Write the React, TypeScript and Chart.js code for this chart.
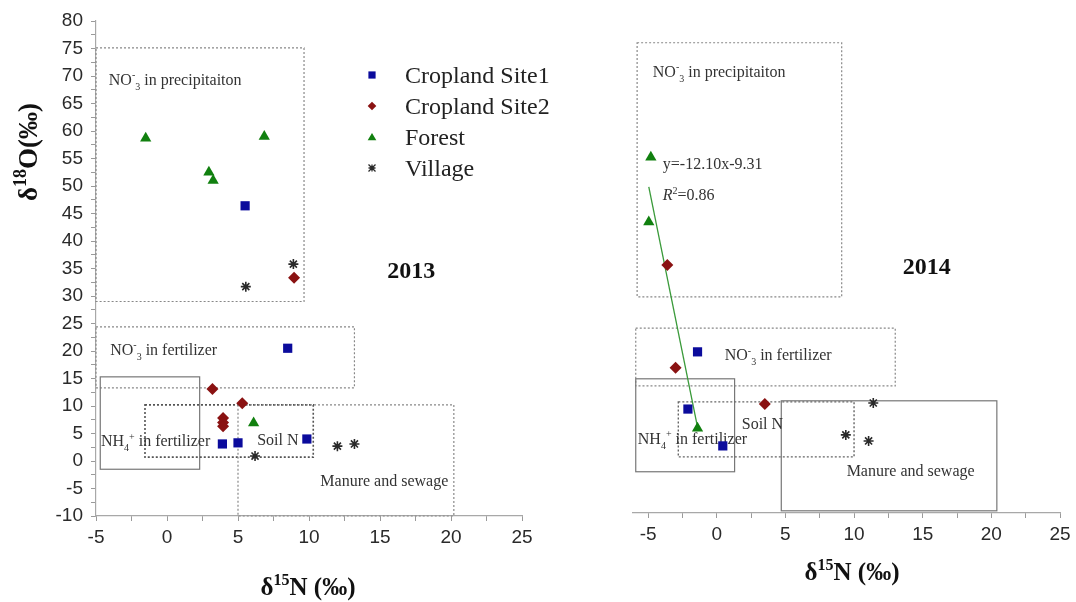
import React, { useEffect, useRef } from "react";
import { Chart, registerables } from "chart.js";
Chart.register(...registerables);

// ---------- DATA ----------
const SERIES = ["Cropland Site1", "Cropland Site2", "Forest", "Village"];

const site1_2013 = [
  { x: 5.5, y: 46.4 }, { x: 8.5, y: 20.5 }, { x: 3.9, y: 3.1 }, { x: 5.0, y: 3.3 }, { x: 9.85, y: 4.0 },
];
const site2_2013 = [
  { x: 8.95, y: 33.3 }, { x: 3.2, y: 13.1 }, { x: 5.3, y: 10.5 }, { x: 3.95, y: 7.8 }, { x: 3.95, y: 7.0 }, { x: 3.95, y: 6.3 },
];
const forest_2013 = [
  { x: -1.5, y: 58.7 }, { x: 6.85, y: 59.0 }, { x: 2.95, y: 52.5 }, { x: 3.25, y: 51.0 }, { x: 6.1, y: 6.9 },
];
const village_2013 = [
  { x: 5.55, y: 31.7 }, { x: 8.9, y: 35.8 }, { x: 6.2, y: 0.9 }, { x: 12.0, y: 2.7 }, { x: 13.2, y: 3.1 },
];

const site1_2014 = [{ x: -1.4, y: 19.3 }, { x: -2.1, y: 8.9 }, { x: 0.44, y: 2.2 }];
const site2_2014 = [{ x: -3.6, y: 35.1 }, { x: -3.0, y: 16.4 }, { x: 3.5, y: 9.8 }];
const forest_2014 = [{ x: -4.8, y: 54.7 }, { x: -4.95, y: 42.9 }, { x: -1.4, y: 5.4 }];
const village_2014 = [{ x: 11.4, y: 10.0 }, { x: 9.4, y: 4.2 }, { x: 11.06, y: 3.1 }];
const fit_2014 = [{ x: -4.95, y: 49.3 }, { x: -1.4, y: 5.6 }];

// source boxes: [xMin, xMax, yMin, yMax]
const BOX_NAMES = ["precipitation", "NO3 fertilizer", "NH4 fertilizer", "Soil N", "Manure and sewage"];
const boxes2013 = [
  [-5, 9.65, 29, 75.1],
  [-5, 13.2, 13.3, 24.4],
  [-4.7, 2.3, -1.5, 15.3],
  [-1.55, 10.3, 0.7, 10.2],
  [5.0, 20.2, -10, 10.2],
];
const boxes2014 = [
  [-5.8, 9.1, 29.3, 75.5],
  [-5.9, 13.0, 13.1, 23.6],
  [-5.9, 1.3, -2.5, 14.4],
  [-2.8, 10.0, 0.2, 10.2],
  [4.7, 20.4, -9.6, 10.4],
];

const X_MIN_2013 = -5, X_MAX_2013 = 25;
const X_MIN_2014 = -6.1, X_MAX_2014 = 25;
const Y_MIN = -10, Y_MAX = 80;
const TICK_STEP = 2.5;
const LABEL_STEP = 5;

// ---------- STYLES ----------
const BLUE = "#0b0b9c";
const RED = "#8a1212";
const GREEN = "#11800f";
const VILLAGE = "#2a2a2a";
const SERIF = '"Liberation Serif", "Times New Roman", serif';
const SANS = '"Liberation Sans", Arial, sans-serif';

// box line styles per panel: [dash, color, width]
const boxStyle2013: [number[], string, number][] = [
  [[2, 2], "#888", 1.2],
  [[2, 2], "#888", 1.2],
  [[], "#777", 1.2],
  [[2, 2], "#555", 1.6],
  [[2, 2], "#888", 1.2],
];
const boxStyle2014: [number[], string, number][] = [
  [[2, 2], "#888", 1.2],
  [[2, 2], "#888", 1.2],
  [[], "#777", 1.2],
  [[2, 2], "#666", 1.4],
  [[], "#777", 1.2],
];

type Part = { t: string; sup?: boolean; sub?: boolean; italic?: boolean };

function drawRich(ctx: CanvasRenderingContext2D, parts: Part[], x: number, y: number, size: number, weight: string, align: "left" | "center", color: string) {
  const fontOf = (p: Part, s: number) => `${p.italic ? "italic " : ""}${weight} ${s}px ${SERIF}`;
  const items: { p: Part; s: number; off: number }[] = [];
  let w = 0;
  for (const p of parts) {
    const s = p.sup || p.sub ? Math.round(size * 0.65) : size;
    ctx.font = fontOf(p, s);
    const pw = ctx.measureText(p.t).width;
    items.push({ p, s, off: w });
    w += pw;
  }
  const x0 = align === "center" ? x - w / 2 : x;
  const base = y + size * 0.33;
  ctx.save();
  ctx.fillStyle = color;
  ctx.textBaseline = "alphabetic";
  ctx.textAlign = "left";
  for (const it of items) {
    ctx.font = fontOf(it.p, it.s);
    let yy = base;
    if (it.p.sup) yy = base - size * 0.42;
    if (it.p.sub) yy = base + size * 0.28;
    ctx.fillText(it.p.t, x0 + it.off, yy);
  }
  ctx.restore();
}

function drawMarker(ctx: CanvasRenderingContext2D, kind: number, x: number, y: number, r: number) {
  ctx.save();
  ctx.beginPath();
  if (kind === 0) {
    ctx.fillStyle = BLUE;
    ctx.fillRect(x - r, y - r, 2 * r, 2 * r);
  } else if (kind === 1) {
    ctx.fillStyle = RED;
    ctx.moveTo(x, y - r * 1.2); ctx.lineTo(x + r * 1.2, y); ctx.lineTo(x, y + r * 1.2); ctx.lineTo(x - r * 1.2, y); ctx.closePath();
    ctx.fill();
  } else if (kind === 2) {
    ctx.fillStyle = GREEN;
    ctx.moveTo(x, y - r * 1.1); ctx.lineTo(x + r * 1.2, y + r * 0.9); ctx.lineTo(x - r * 1.2, y + r * 0.9); ctx.closePath();
    ctx.fill();
  } else {
    ctx.strokeStyle = VILLAGE;
    ctx.lineWidth = 1.3;
    ctx.moveTo(x - r, y - r); ctx.lineTo(x + r, y + r);
    ctx.moveTo(x + r, y - r); ctx.lineTo(x - r, y + r);
    ctx.moveTo(x, y - r); ctx.lineTo(x, y + r);
    ctx.moveTo(x - r, y); ctx.lineTo(x + r, y);
    ctx.stroke();
  }
  ctx.restore();
}

const NO3 = (rest: string): Part[] => [{ t: "NO" }, { t: "-", sup: true }, { t: "3", sub: true }, { t: rest }];
const NH4: Part[] = [{ t: "NH" }, { t: "4", sub: true }, { t: "+", sup: true }, { t: " in fertilizer" }];

type Lbl = { parts: Part[]; x: number; y: number };

function overlayPlugin(boxes: number[][], styles: [number[], string, number][], labels: Lbl[], year: { t: string; x: number; y: number }, extra: (ctx: CanvasRenderingContext2D, chart: any) => void) {
  return {
    id: "overlay",
    beforeDatasetsDraw(chart: any) {
      const { ctx, scales } = chart;
      const sx = scales.x, sy = scales.y;
      ctx.save();
      boxes.forEach((b, i) => {
        const [dash, color, lw] = styles[i];
        const x0 = sx.getPixelForValue(b[0]);
        const x1 = sx.getPixelForValue(b[1]);
        const y0 = sy.getPixelForValue(b[3]);
        const y1 = sy.getPixelForValue(b[2]);
        ctx.setLineDash(dash);
        ctx.strokeStyle = color;
        ctx.lineWidth = lw;
        ctx.strokeRect(x0, y0, x1 - x0, y1 - y0);
      });
      ctx.setLineDash([]);
      ctx.restore();
      labels.forEach((l) => {
        drawRich(ctx, l.parts, sx.getPixelForValue(l.x), sy.getPixelForValue(l.y), 16, "normal", "left", "#333");
      });
      drawRich(ctx, [{ t: year.t }], sx.getPixelForValue(year.x), sy.getPixelForValue(year.y), 24, "bold", "center", "#111");
    },
    afterDraw(chart: any) {
      extra(chart.ctx, chart);
    },
  };
}

function datasets(s1: any[], s2: any[], f: any[], v: any[]) {
  return [
    { label: SERIES[0], data: s1, pointStyle: "rect", pointRadius: 6.5, backgroundColor: BLUE, borderColor: BLUE, borderWidth: 0 },
    { label: SERIES[1], data: s2, pointStyle: "rectRot", pointRadius: 6, backgroundColor: RED, borderColor: RED, borderWidth: 0 },
    { label: SERIES[2], data: f, pointStyle: "triangle", pointRadius: 6.5, backgroundColor: GREEN, borderColor: GREEN, borderWidth: 0 },
    { label: SERIES[3], data: v, pointStyle: "star", pointRadius: 5, backgroundColor: VILLAGE, borderColor: VILLAGE, borderWidth: 1.6 },
  ];
}

function xScale(min: number, max: number, height: number) {
  return {
    type: "linear",
    min, max,
    afterFit: (s: any) => { s.height = height; },
    ticks: {
      stepSize: TICK_STEP, autoSkip: false, includeBounds: false, maxRotation: 0,
      callback: (v: number) => (v % LABEL_STEP === 0 ? String(v) : ""),
      color: "#2a2a2a", font: { size: 19, family: SANS }, padding: 5,
    },
    grid: { drawOnChartArea: false, drawTicks: true, tickLength: 5, color: "#9a9a9a" },
    border: { display: true, color: "#a8a8a8", width: 1.2 },
  };
}

function yScale(show: boolean) {
  return {
    type: "linear",
    display: show,
    min: Y_MIN, max: Y_MAX,
    afterFit: (s: any) => { s.width = show ? 96 : 0; },
    ticks: {
      stepSize: TICK_STEP, autoSkip: false, includeBounds: false,
      callback: (v: number) => (v % LABEL_STEP === 0 ? String(v) : ""),
      color: "#2a2a2a", font: { size: 19, family: SANS }, padding: 8,
    },
    grid: { drawOnChartArea: false, drawTicks: true, tickLength: 5, color: "#9a9a9a" },
    border: { display: true, color: "#a8a8a8", width: 1.2 },
  };
}

const labels2013: Lbl[] = [
  { parts: NO3(" in precipitaiton"), x: -4.1, y: 69.3 },
  { parts: NO3(" in fertilizer"), x: -4.0, y: 20.2 },
  { parts: NH4, x: -4.65, y: 3.6 },
  { parts: [{ t: "Soil N" }], x: 6.35, y: 3.8 },
  { parts: [{ t: "Manure and sewage" }], x: 10.8, y: -3.5 },
];
const labels2014: Lbl[] = [
  { parts: NO3(" in precipitaiton"), x: -4.66, y: 70.2 },
  { parts: NO3(" in fertilizer"), x: 0.58, y: 18.7 },
  { parts: NH4, x: -5.75, y: 3.5 },
  { parts: [{ t: "Soil N" }], x: 1.82, y: 6.2 },
  { parts: [{ t: "Manure and sewage" }], x: 9.46, y: -2.4 },
  { parts: [{ t: "y=-12.10x-9.31" }], x: -3.93, y: 53.5 },
  { parts: [{ t: "R", italic: true }, { t: "2", sup: true }, { t: "=0.86" }], x: -3.93, y: 47.8 },
];

export default function App() {
  const leftRef = useRef<HTMLCanvasElement>(null);
  const rightRef = useRef<HTMLCanvasElement>(null);

  useEffect(() => {
    const leftExtra = (ctx: CanvasRenderingContext2D) => {
      // legend
      SERIES.forEach((name, i) => {
        const y = 75 + i * 31;
        drawMarker(ctx, i, 372, y, i === 3 ? 3.5 : 3.6);
        drawRich(ctx, [{ t: name }], 405, y, 24, "normal", "left", "#222");
      });
      // axis titles
      drawRich(ctx, [{ t: "δ" }, { t: "15", sup: true }, { t: "N (‰)" }], 308, 587, 25, "bold", "center", "#111");
      ctx.save();
      ctx.translate(28, 152);
      ctx.rotate(-Math.PI / 2);
      drawRich(ctx, [{ t: "δ" }, { t: "18", sup: true }, { t: "O(‰)" }], 0, 0, 27, "bold", "center", "#111");
      ctx.restore();
    };
    const rightExtra = (ctx: CanvasRenderingContext2D) => {
      drawRich(ctx, [{ t: "δ" }, { t: "15", sup: true }, { t: "N (‰)" }], 252, 572, 25, "bold", "center", "#111");
    };

    const c1 = new Chart(leftRef.current as HTMLCanvasElement, {
      type: "scatter",
      data: { datasets: datasets(site1_2013, site2_2013, forest_2013, village_2013) as any },
      options: {
        responsive: false,
        animation: false,
        layout: { padding: { left: 0, top: 21, right: 78, bottom: 0 } },
        plugins: { legend: { display: false }, tooltip: { enabled: false } },
        scales: { x: xScale(X_MIN_2013, X_MAX_2013, 86) as any, y: yScale(true) as any },
      },
      plugins: [overlayPlugin(boxes2013, boxStyle2013, labels2013, { t: "2013", x: 17.2, y: 34.7 }, leftExtra) as any],
    });

    const ds2 = datasets(site1_2014, site2_2014, forest_2014, village_2014) as any[];
    ds2.push({
      type: "line", label: "fit", data: fit_2014, borderColor: "#3a9a3a", borderWidth: 1.3,
      pointRadius: 0, showLine: true, fill: false,
    });
    const c2 = new Chart(rightRef.current as HTMLCanvasElement, {
      type: "scatter",
      data: { datasets: ds2 },
      options: {
        responsive: false,
        animation: false,
        layout: { padding: { left: 33, top: 18, right: 16, bottom: 0 } },
        plugins: { legend: { display: false }, tooltip: { enabled: false } },
        scales: { x: xScale(X_MIN_2014, X_MAX_2014, 89) as any, y: yScale(false) as any },
      },
      plugins: [overlayPlugin(boxes2014, boxStyle2014, labels2014, { t: "2014", x: 15.3, y: 34.9 }, rightExtra) as any],
    });

    return () => {
      c1.destroy();
      c2.destroy();
    };
  }, []);

  return (
    <div style={{ position: "fixed", left: 0, top: 0, width: 1076, height: 602, background: "#fff" }}>
      <canvas ref={leftRef} width={600} height={602} style={{ position: "absolute", left: 0, top: 0, width: 600, height: 602 }} />
      <canvas ref={rightRef} width={476} height={602} style={{ position: "absolute", left: 600, top: 0, width: 476, height: 602 }} />
    </div>
  );
}
